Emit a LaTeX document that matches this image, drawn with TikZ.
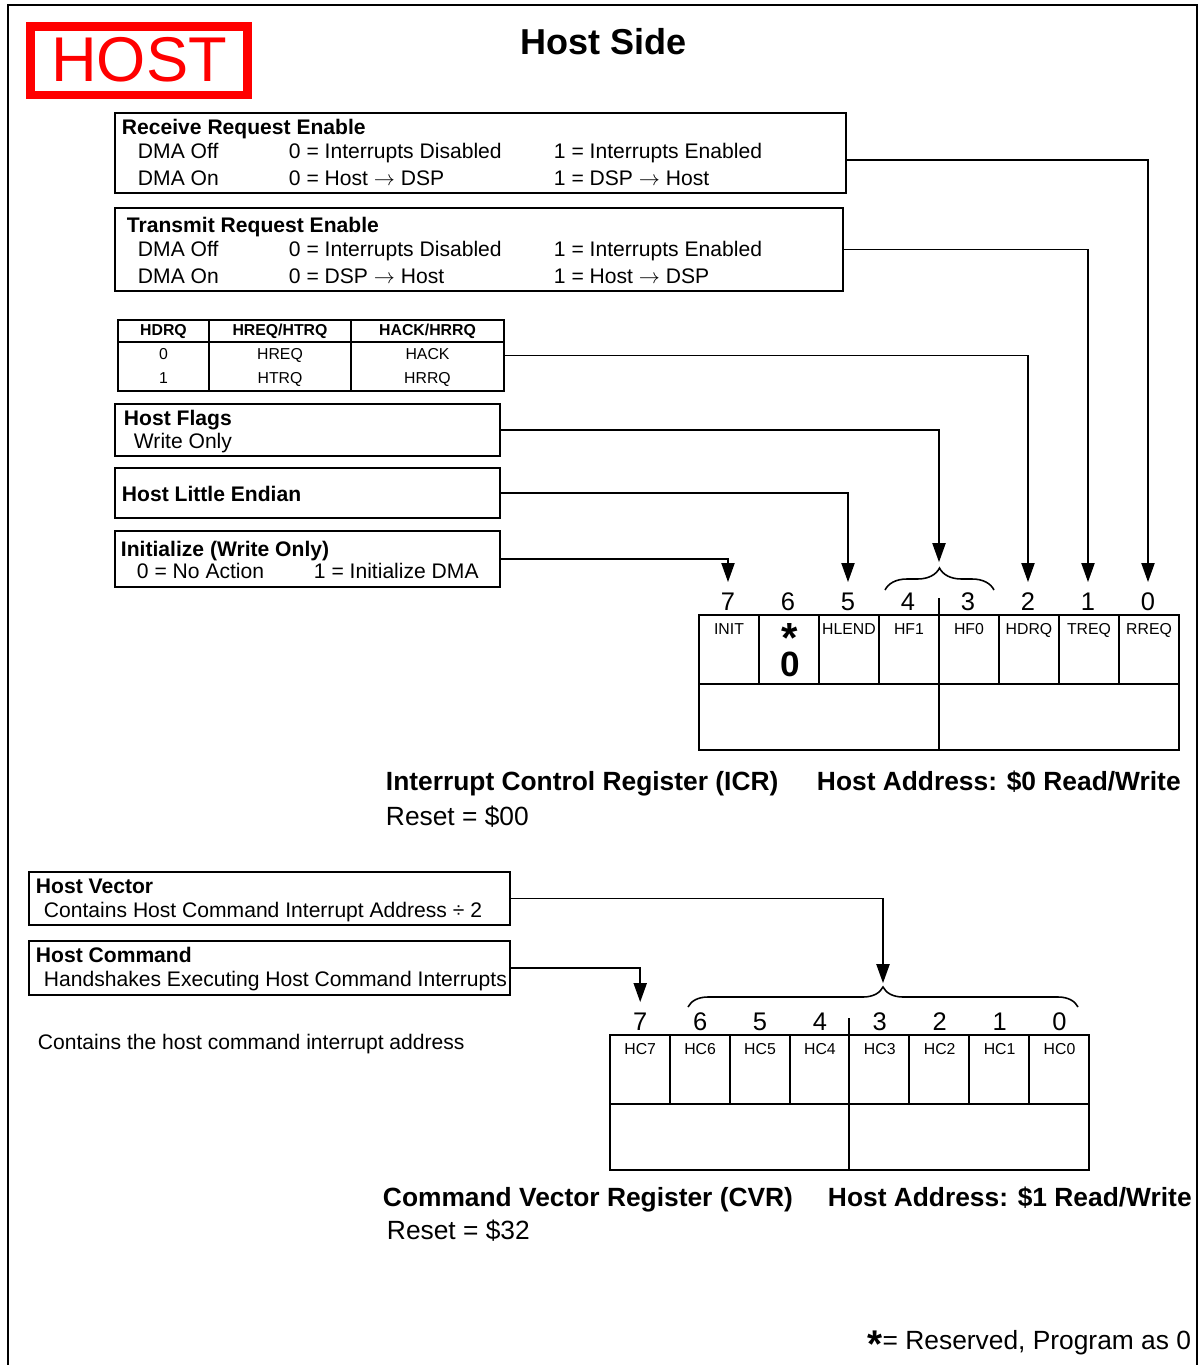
\documentclass[tikz,border=0pt]{standalone}
\usepackage{fontspec}
\setmainfont{Liberation Sans}
\usetikzlibrary{arrows.meta,fit,decorations.pathreplacing}
\definecolor{HostClr}{rgb}{1,0,0}
\tikzset{
  bodytxt/.style={inner sep=0pt,text height=8.4pt,text depth=0pt,anchor=west,font=\fontsize{12}{14}\selectfont},
  bodyhead/.style={bodytxt,font=\bfseries\fontsize{12}{14}\selectfont},
  captxt/.style={inner sep=0pt,text height=10.5pt,text depth=0pt,anchor=west,font=\fontsize{15}{18}\selectfont},
  caphead/.style={captxt,font=\bfseries\fontsize{15}{18}\selectfont},
  celltxt/.style={inner sep=0pt,text height=6.3pt,text depth=0pt,font=\fontsize{9}{11}\selectfont},
  cellhead/.style={celltxt,font=\bfseries\fontsize{9}{11}\selectfont},
  bitnum/.style={inner sep=0pt,text height=10.4pt,text depth=0pt,font=\fontsize{14.5}{17}\selectfont},
  infobox/.style={draw,inner sep=0pt},
  feed/.style={-{Triangle[length=3.8mm,width=2.6mm]},shorten >=5pt},
  bracebar/.style={decorate,decoration={brace,amplitude=#1},line width=0.9pt}
}

\begin{document}
\begin{tikzpicture}[x=0.02cm,y=-0.02cm,line width=1.1pt]
\useasboundingbox (0,0) rectangle (1199,1365);
\draw[line width=1.6pt] (8,1365) -- (8,5) -- (1197,5) -- (1197,1365);

\draw[HostClr,line width=4.8pt] (30.5,26.5) rectangle (247.5,95);
\node[text=HostClr,inner sep=0pt,text height=25.8pt,text depth=0pt,font=\fontsize{36}{40}\selectfont] (host) at (139,58.5) {HOST};
\node[inner sep=0pt,text height=14.3pt,text depth=0pt,font=\bfseries\fontsize{20.5}{24}\selectfont] (side) at (603.5,42) {Host Side};

\node[infobox,fit={(115,113) (846,193)}] (rre) {};
\node[bodyhead] (rreT) at (121,127) {Receive Request Enable};
\node[bodytxt] (rreA) at (137,151) {DMA Off};
\node[bodytxt] (rreB) at (288,151) {0 = Interrupts Disabled};
\node[bodytxt] (rreC) at (553,151) {1 = Interrupts Enabled};
\node[bodytxt] (rreD) at (137,178) {DMA On};
\node[bodytxt] (rreE) at (288,178) {0 = Host $\rightarrow$ DSP};
\node[bodytxt] (rreF) at (553,178) {1 = DSP $\rightarrow$ Host};

\node[infobox,fit={(115,208) (843,291)}] (tre) {};
\node[bodyhead] (treT) at (126,225) {Transmit Request Enable};
\node[bodytxt] (treA) at (137,249) {DMA Off};
\node[bodytxt] (treB) at (288,249) {0 = Interrupts Disabled};
\node[bodytxt] (treC) at (553,249) {1 = Interrupts Enabled};
\node[bodytxt] (treD) at (137,276) {DMA On};
\node[bodytxt] (treE) at (288,276) {0 = DSP $\rightarrow$ Host};
\node[bodytxt] (treF) at (553,276) {1 = Host $\rightarrow$ DSP};

\node[infobox,fit={(118,320) (504,391)}] (modes) {};
\draw (118,342) -- (504,342) (209,320) -- (209,391) (351,320) -- (351,391);
\node[cellhead] (modesA) at (163.5,330) {HDRQ};
\node[cellhead] (modesB) at (280,330) {HREQ/HTRQ};
\node[cellhead] (modesC) at (427.5,330) {HACK/HRRQ};
\node[celltxt] (modesD) at (163.5,354) {0};
\node[celltxt] (modesE) at (280,354) {HREQ};
\node[celltxt] (modesF) at (427.5,354) {HACK};
\node[celltxt] (modesG) at (163.5,378) {1};
\node[celltxt] (modesH) at (280,378) {HTRQ};
\node[celltxt] (modesI) at (427.5,378) {HRRQ};

\node[infobox,fit={(115,404) (500,456)}] (flags) {};
\node[bodyhead] (flagsT) at (123,418) {Host Flags};
\node[bodytxt] (flagsA) at (133,441) {Write Only};

\node[infobox,fit={(115,468) (500,518)}] (hle) {};
\node[bodyhead] (hleT) at (121,494) {Host Little Endian};

\node[infobox,fit={(115,531) (500,587)}] (init) {};
\node[bodyhead] (initT) at (120,549) {Initialize (Write Only)};
\node[bodytxt] (initA) at (136,571) {0 = No Action};
\node[bodytxt] (initB) at (313,571) {1 = Initialize DMA};

\foreach \b in {0,...,7}
  \node[bitnum] (b\b) at ({1148-60*\b},601) {\b};
\draw[bracebar=0.44cm] (885,590) -- (994,590);
\coordinate (hfbrace) at (939,571);

\draw[feed] ([yshift=-4pt]rre.east) -| (b0.north);
\draw[feed] (tre.east) -| (b1.north);
\draw[feed] (modes.east) -| (b2.north);
\draw[feed] (flags.east) -| (hfbrace);
\draw[feed] (hle.east) -| (b5.north);
\draw[feed] (init.east) -| (b7.north);

\draw (699,615) rectangle (1179,750) (699,684) -- (1179,684);
\foreach \x in {759,819,...,1119}
  \draw (\x,615) -- (\x,684);
\draw (939,598) -- (939,750);
\foreach \x/\t [count=\i] in {729/INIT,849/HLEND,909/HF1,969/HF0,1029/HDRQ,1089/TREQ,1149/RREQ}
  \node[celltxt] (icr\i) at (\x,629) {\t};
\node[inner sep=0pt,anchor=base,font=\bfseries] (rsvd) at (790,676)
  {\rlap{\makebox[11.12pt]{\raisebox{13.5pt}{\fontsize{24}{24}\selectfont *}}}\fontsize{20}{22}\selectfont 0};

\node[caphead] (icrname) at (385,781) {Interrupt Control Register (ICR)};
\node[caphead] (icraddr) at (816,781) {Host Address: \$0 Read/Write};
\node[captxt] (icrreset) at (385,816) {Reset = \$00};

\node[infobox,fit={(29,872) (510,925)}] (hv) {};
\node[bodyhead] (hvT) at (35,886) {Host Vector};
\node[bodytxt] (hvA) at (43,910) {Contains Host Command Interrupt Address ÷ 2};

\node[infobox,fit={(29,941) (510,995)}] (hc) {};
\node[bodyhead] (hcT) at (35,955) {Host Command};
\node[bodytxt] (hcA) at (43,979) {Handshakes Executing Host Command Interrupts};

\node[bodytxt] (hvnote) at (37,1042) {Contains the host command interrupt address};

\foreach \b in {0,...,7}
  \node[bitnum] (c\b) at ({1059.5-59.9*\b},1021) {\b};
\draw[bracebar=0.4cm] (688,1007) -- (1078,1007);
\coordinate (hvbrace) at (883,992);

\draw[feed] (hv.east) -| (hvbrace);
\draw[feed] (hc.east) -| (c7.north);

\draw (610,1035) rectangle (1089,1170) (610,1104) -- (1089,1104);
\foreach \x in {670,730,790,909,969,1029}
  \draw (\x,1035) -- (\x,1104);
\draw (849,1018) -- (849,1170);
\foreach \b in {0,...,7}
  \node[celltxt] (hc\b) at ({1059.5-59.9*\b},1049) {HC\b};

\node[caphead] (cvrname) at (382,1197) {Command Vector Register (CVR)};
\node[caphead] (cvraddr) at (827,1197) {Host Address: \$1 Read/Write};
\node[captxt] (cvrreset) at (386,1230) {Reset = \$32};

\node[captxt,anchor=east] (rsvdnote) at (1192,1340) {\raisebox{-4.5pt}{\bfseries\fontsize{22}{22}\selectfont *}= Reserved, Program as 0};
\end{tikzpicture}
\end{document}
